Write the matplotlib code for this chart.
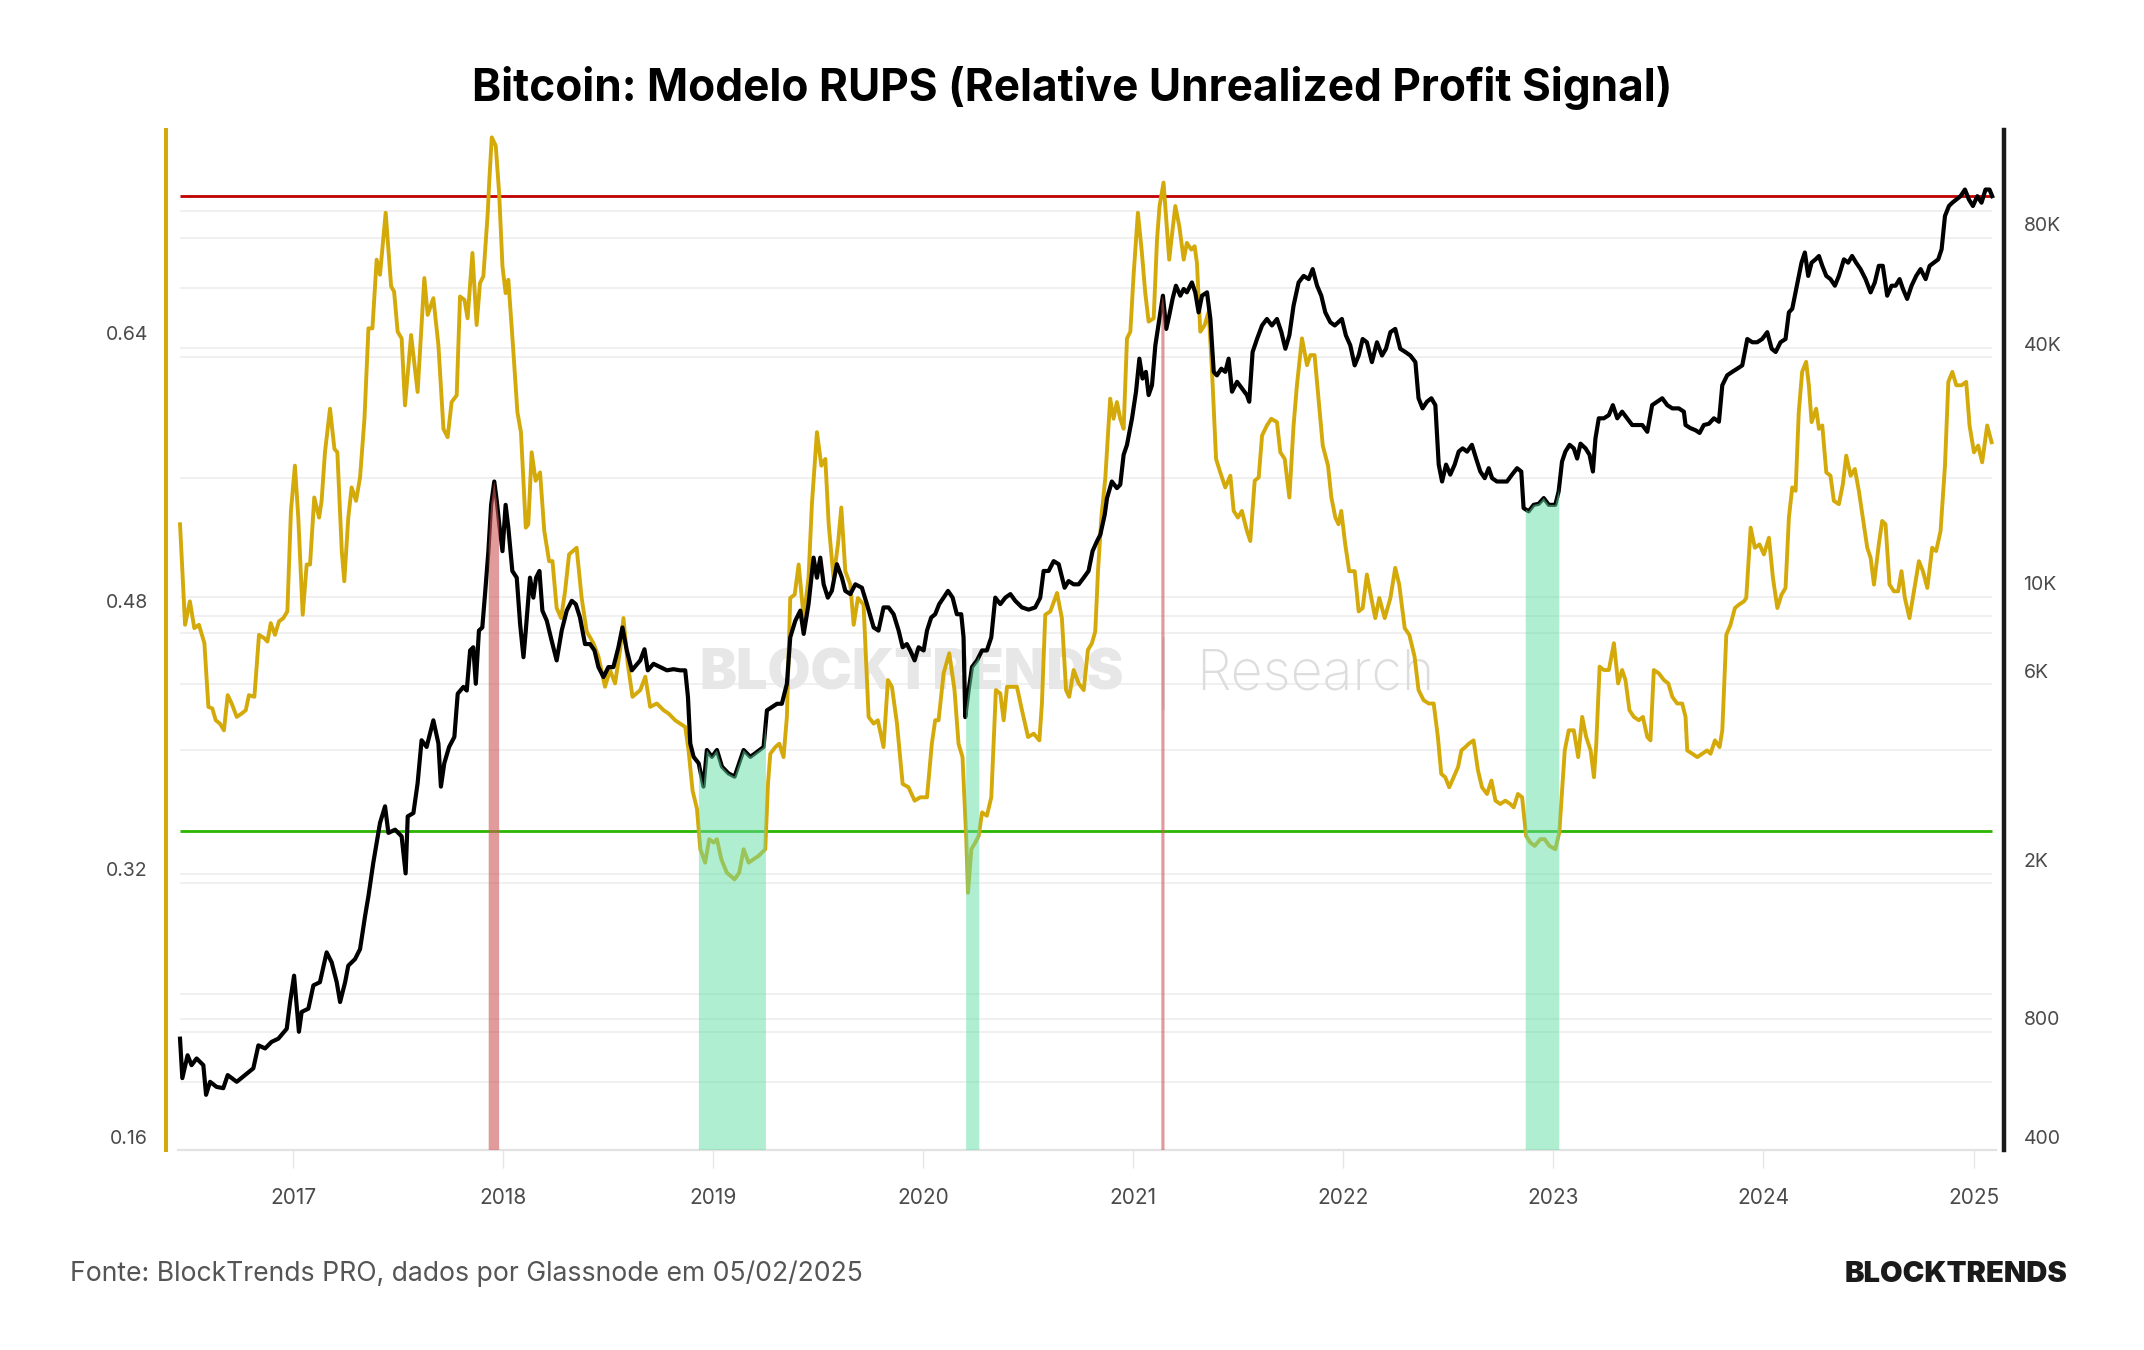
import numpy as np
import matplotlib
matplotlib.use("Agg")
import matplotlib.pyplot as plt
from matplotlib.lines import Line2D
from matplotlib.ticker import NullLocator

plt.rcParams['font.family'] = ['Inter', 'DejaVu Sans']

# RUPS (left axis), dates as decimal years
rups_t = [
    2016.462, 2016.486, 2016.509, 2016.530, 2016.552, 2016.578, 2016.597, 2016.616, 2016.632, 2016.652,
    2016.671, 2016.689, 2016.708, 2016.732, 2016.755, 2016.775, 2016.790, 2016.816, 2016.838, 2016.863,
    2016.878, 2016.894, 2016.914, 2016.933, 2016.954, 2016.973, 2016.990, 2017.009, 2017.025, 2017.046,
    2017.065, 2017.081, 2017.101, 2017.124, 2017.136, 2017.152, 2017.176, 2017.197, 2017.211, 2017.232,
    2017.244, 2017.263, 2017.279, 2017.300, 2017.319, 2017.340, 2017.359, 2017.378, 2017.398, 2017.414,
    2017.441, 2017.467, 2017.481, 2017.498, 2017.517,
    2017.533, 2017.562, 2017.593, 2017.625, 2017.641, 2017.668, 2017.692, 2017.716, 2017.736, 2017.755,
    2017.779, 2017.795, 2017.816, 2017.831, 2017.854, 2017.874, 2017.890, 2017.906, 2017.927, 2017.933,
    2017.946, 2017.965, 2017.981, 2017.997, 2018.012, 2018.025, 2018.049, 2018.068, 2018.085, 2018.108,
    2018.120, 2018.136, 2018.155, 2018.176, 2018.196, 2018.219, 2018.235, 2018.255, 2018.276, 2018.295,
    2018.314, 2018.350, 2018.374, 2018.398, 2018.430, 2018.454, 2018.485, 2018.509, 2018.533, 2018.557,
    2018.573, 2018.593, 2018.616,
    2018.653, 2018.677, 2018.700, 2018.732, 2018.764, 2018.788, 2018.819, 2018.867, 2018.883, 2018.902,
    2018.923, 2018.939, 2018.962, 2018.981, 2019.002, 2019.018, 2019.039, 2019.065, 2019.102, 2019.124,
    2019.145, 2019.169, 2019.192, 2019.216, 2019.248, 2019.261, 2019.272, 2019.296, 2019.315, 2019.335,
    2019.351, 2019.367, 2019.388, 2019.407, 2019.431, 2019.454, 2019.470, 2019.494, 2019.515, 2019.534,
    2019.550, 2019.573, 2019.594, 2019.610, 2019.629, 2019.653, 2019.669, 2019.689, 2019.716,
    2019.740, 2019.764, 2019.784, 2019.811, 2019.832, 2019.851, 2019.875, 2019.902, 2019.930, 2019.959,
    2019.986, 2020.018, 2020.041, 2020.057, 2020.073, 2020.097, 2020.124, 2020.149, 2020.168, 2020.187,
    2020.200, 2020.205, 2020.213, 2020.229, 2020.248, 2020.264, 2020.280, 2020.303, 2020.324, 2020.346,
    2020.367, 2020.383, 2020.399, 2020.422, 2020.446, 2020.470, 2020.499, 2020.526, 2020.553, 2020.565,
    2020.581, 2020.605, 2020.637, 2020.660, 2020.680, 2020.695, 2020.716, 2020.740, 2020.764, 2020.784,
    2020.803,
    2020.819, 2020.832, 2020.848, 2020.867, 2020.890, 2020.906, 2020.922, 2020.938, 2020.954, 2020.970,
    2020.986, 2021.002, 2021.022, 2021.041, 2021.057, 2021.073, 2021.097, 2021.113, 2021.125, 2021.144,
    2021.157, 2021.171, 2021.187, 2021.200, 2021.219, 2021.240, 2021.255, 2021.276, 2021.292, 2021.303,
    2021.319, 2021.340, 2021.359, 2021.375, 2021.394, 2021.414, 2021.438, 2021.462, 2021.478, 2021.498,
    2021.517, 2021.541, 2021.557, 2021.578, 2021.597, 2021.613, 2021.636, 2021.657, 2021.684, 2021.700,
    2021.721, 2021.743, 2021.763, 2021.779, 2021.803, 2021.827, 2021.843, 2021.863, 2021.879, 2021.902,
    2021.927, 2021.943, 2021.962, 2021.977, 2021.990, 2022.009, 2022.028, 2022.054, 2022.073, 2022.092,
    2022.112, 2022.133, 2022.152, 2022.171, 2022.197, 2022.224, 2022.247, 2022.266, 2022.292, 2022.314,
    2022.339, 2022.358, 2022.382, 2022.406, 2022.430, 2022.450, 2022.466, 2022.485, 2022.504, 2022.525,
    2022.546, 2022.562, 2022.581, 2022.597, 2022.620, 2022.641, 2022.660, 2022.684, 2022.705, 2022.724,
    2022.747, 2022.771, 2022.795, 2022.811, 2022.831, 2022.851, 2022.870, 2022.890, 2022.911, 2022.938,
    2022.958, 2022.981, 2023.009, 2023.028,
    2023.039, 2023.054, 2023.073, 2023.097, 2023.118, 2023.137, 2023.156, 2023.177, 2023.193, 2023.204,
    2023.220, 2023.240, 2023.264, 2023.288, 2023.308, 2023.327, 2023.343, 2023.362, 2023.383, 2023.407,
    2023.426, 2023.447, 2023.462, 2023.478, 2023.502, 2023.526, 2023.547, 2023.566, 2023.589, 2023.613,
    2023.629, 2023.637, 2023.661, 2023.685, 2023.708, 2023.732, 2023.748, 2023.769, 2023.791, 2023.804,
    2023.823, 2023.843, 2023.864, 2023.883, 2023.907, 2023.918, 2023.939, 2023.959, 2023.981, 2024.002,
    2024.026, 2024.045, 2024.066, 2024.086, 2024.105, 2024.121, 2024.137, 2024.153,
    2024.168, 2024.184, 2024.203, 2024.216, 2024.229, 2024.251, 2024.264, 2024.280, 2024.299, 2024.319,
    2024.335, 2024.359, 2024.378, 2024.394, 2024.415, 2024.435, 2024.454, 2024.473, 2024.494, 2024.510,
    2024.526, 2024.549, 2024.565, 2024.581, 2024.600, 2024.621, 2024.641, 2024.657, 2024.673, 2024.695,
    2024.716, 2024.740, 2024.759, 2024.780, 2024.803, 2024.822, 2024.843, 2024.864, 2024.880, 2024.899,
    2024.918, 2024.943, 2024.965, 2024.981, 2025.002, 2025.022, 2025.041, 2025.065, 2025.086,
]
rups_v = [
    0.526, 0.466, 0.480, 0.464, 0.466, 0.455, 0.417, 0.416, 0.409, 0.407,
    0.403, 0.424, 0.419, 0.411, 0.413, 0.415, 0.424, 0.423, 0.460, 0.458,
    0.456, 0.467, 0.460, 0.468, 0.470, 0.474, 0.534, 0.561, 0.530, 0.472,
    0.502, 0.502, 0.542, 0.530, 0.540, 0.569, 0.595, 0.571, 0.569, 0.510,
    0.492, 0.530, 0.548, 0.540, 0.554, 0.589, 0.643, 0.643, 0.684, 0.675,
    0.712, 0.668, 0.665, 0.641, 0.637,
    0.597, 0.639, 0.605, 0.673, 0.651, 0.661, 0.633, 0.583, 0.578, 0.599,
    0.603, 0.662, 0.660, 0.649, 0.688, 0.645, 0.670, 0.674, 0.712, 0.728,
    0.757, 0.752, 0.724, 0.680, 0.664, 0.672, 0.629, 0.593, 0.581, 0.524,
    0.526, 0.569, 0.552, 0.557, 0.522, 0.504, 0.504, 0.476, 0.470, 0.486,
    0.508, 0.512, 0.482, 0.462, 0.455, 0.447, 0.429, 0.439, 0.431, 0.451,
    0.470, 0.443, 0.423,
    0.427, 0.435, 0.417, 0.419, 0.415, 0.413, 0.409, 0.405, 0.391, 0.367,
    0.356, 0.332, 0.324, 0.338, 0.336, 0.338, 0.326, 0.318, 0.314, 0.318,
    0.332, 0.324, 0.326, 0.328, 0.332, 0.371, 0.389, 0.393, 0.395, 0.387,
    0.411, 0.482, 0.484, 0.502, 0.470, 0.494, 0.538, 0.581, 0.561, 0.565,
    0.526, 0.494, 0.514, 0.536, 0.498, 0.490, 0.466, 0.482, 0.478,
    0.411, 0.407, 0.409, 0.393, 0.433, 0.429, 0.407, 0.371, 0.369, 0.361,
    0.363, 0.363, 0.395, 0.409, 0.409, 0.437, 0.449, 0.427, 0.395, 0.387,
    0.352, 0.338, 0.306, 0.332, 0.336, 0.340, 0.354, 0.352, 0.363, 0.427,
    0.425, 0.409, 0.429, 0.429, 0.429, 0.415, 0.399, 0.401, 0.397, 0.419,
    0.472, 0.474, 0.485, 0.470, 0.427, 0.423, 0.439, 0.431, 0.427, 0.451,
    0.455,
    0.462, 0.498, 0.530, 0.554, 0.601, 0.589, 0.599, 0.589, 0.583, 0.637,
    0.641, 0.676, 0.712, 0.688, 0.664, 0.647, 0.649, 0.696, 0.716, 0.730,
    0.708, 0.684, 0.702, 0.716, 0.704, 0.684, 0.694, 0.690, 0.692, 0.682,
    0.641, 0.645, 0.653, 0.617, 0.565, 0.557, 0.548, 0.555, 0.534, 0.530,
    0.534, 0.522, 0.516, 0.552, 0.554, 0.579, 0.585, 0.589, 0.587, 0.569,
    0.565, 0.542, 0.585, 0.609, 0.637, 0.621, 0.627, 0.627, 0.605, 0.573,
    0.561, 0.542, 0.530, 0.526, 0.534, 0.514, 0.498, 0.498, 0.474, 0.476,
    0.496, 0.482, 0.470, 0.482, 0.470, 0.482, 0.500, 0.490, 0.464, 0.460,
    0.447, 0.427, 0.421, 0.419, 0.419, 0.399, 0.377, 0.375, 0.369, 0.375,
    0.381, 0.391, 0.393, 0.395, 0.397, 0.379, 0.369, 0.365, 0.373, 0.361,
    0.359, 0.361, 0.359, 0.357, 0.365, 0.363, 0.340, 0.336, 0.334, 0.338,
    0.338, 0.334, 0.332, 0.342,
    0.363, 0.391, 0.403, 0.403, 0.387, 0.411, 0.399, 0.391, 0.375, 0.395,
    0.441, 0.439, 0.439, 0.455, 0.431, 0.439, 0.433, 0.415, 0.411, 0.409,
    0.411, 0.399, 0.397, 0.439, 0.437, 0.433, 0.431, 0.423, 0.419, 0.419,
    0.411, 0.391, 0.389, 0.387, 0.389, 0.391, 0.389, 0.397, 0.393, 0.403,
    0.460, 0.466, 0.476, 0.478, 0.480, 0.482, 0.524, 0.512, 0.514, 0.508,
    0.518, 0.494, 0.476, 0.484, 0.488, 0.530, 0.548, 0.546,
    0.593, 0.617, 0.623, 0.609, 0.587, 0.595, 0.583, 0.585, 0.557, 0.555,
    0.540, 0.538, 0.550, 0.567, 0.555, 0.559, 0.546, 0.530, 0.512, 0.506,
    0.490, 0.514, 0.528, 0.526, 0.490, 0.486, 0.486, 0.498, 0.482, 0.470,
    0.486, 0.504, 0.498, 0.488, 0.512, 0.510, 0.522, 0.561, 0.611, 0.617,
    0.609, 0.609, 0.611, 0.585, 0.569, 0.573, 0.563, 0.585, 0.575,
]

# BTC price in USD (right axis, log)
price_t = [
    2016.462, 2016.473, 2016.498, 2016.517, 2016.541, 2016.573, 2016.586, 2016.605, 2016.636, 2016.668,
    2016.689, 2016.732, 2016.771, 2016.811, 2016.835, 2016.867, 2016.898, 2016.930, 2016.970, 2016.986,
    2017.005, 2017.028, 2017.041, 2017.073, 2017.097, 2017.128, 2017.160, 2017.184, 2017.208, 2017.224,
    2017.248, 2017.263, 2017.295, 2017.319, 2017.343, 2017.359, 2017.382, 2017.398, 2017.414, 2017.438,
    2017.454, 2017.486, 2017.517, 2017.536,
    2017.546, 2017.573, 2017.593, 2017.612, 2017.636, 2017.668, 2017.692, 2017.704, 2017.720, 2017.743,
    2017.768, 2017.784, 2017.811, 2017.827, 2017.843, 2017.858, 2017.870, 2017.885, 2017.901, 2017.914,
    2017.930, 2017.943, 2017.958, 2017.970, 2017.982, 2017.997, 2018.012, 2018.025, 2018.044, 2018.065,
    2018.081, 2018.097, 2018.108, 2018.128, 2018.144, 2018.157, 2018.173, 2018.187, 2018.208, 2018.231,
    2018.255, 2018.279, 2018.303, 2018.327, 2018.346, 2018.366, 2018.390, 2018.414, 2018.435, 2018.454,
    2018.478, 2018.501, 2018.525, 2018.549, 2018.568, 2018.589, 2018.613,
    2018.653, 2018.673, 2018.689, 2018.716, 2018.748, 2018.780, 2018.811, 2018.843, 2018.867, 2018.880,
    2018.891, 2018.907, 2018.931, 2018.954, 2018.970, 2018.994, 2019.018, 2019.042, 2019.073, 2019.102,
    2019.129, 2019.145, 2019.177, 2019.200, 2019.240, 2019.256, 2019.280, 2019.304, 2019.327, 2019.351,
    2019.367, 2019.391, 2019.415, 2019.431, 2019.454, 2019.478, 2019.494, 2019.510, 2019.526, 2019.546,
    2019.565, 2019.589, 2019.613, 2019.629, 2019.653, 2019.677, 2019.708, 2019.732,
    2019.764, 2019.787, 2019.811, 2019.835, 2019.859, 2019.883, 2019.902, 2019.922, 2019.938, 2019.959,
    2019.978, 2020.002, 2020.018, 2020.038, 2020.057, 2020.076, 2020.097, 2020.118, 2020.140, 2020.160,
    2020.181, 2020.192, 2020.200, 2020.216, 2020.232, 2020.256, 2020.280, 2020.303, 2020.324, 2020.343,
    2020.367, 2020.391, 2020.415, 2020.438, 2020.470, 2020.502, 2020.533, 2020.557, 2020.573, 2020.597,
    2020.621, 2020.645, 2020.673, 2020.692, 2020.716, 2020.740, 2020.764, 2020.787, 2020.806, 2020.827,
    2020.843, 2020.864,
    2020.875, 2020.898, 2020.922, 2020.938, 2020.954, 2020.970, 2020.994, 2021.013, 2021.029, 2021.044,
    2021.060, 2021.073, 2021.089, 2021.105, 2021.124, 2021.141, 2021.157, 2021.171, 2021.187, 2021.203,
    2021.224, 2021.240, 2021.255, 2021.279, 2021.295, 2021.311, 2021.327, 2021.351, 2021.367, 2021.383,
    2021.398, 2021.419, 2021.438, 2021.454, 2021.470, 2021.494, 2021.517, 2021.541, 2021.552, 2021.568,
    2021.589, 2021.613, 2021.636, 2021.660, 2021.684, 2021.705, 2021.724, 2021.743, 2021.763, 2021.787,
    2021.811, 2021.835, 2021.854, 2021.875, 2021.895, 2021.914, 2021.938, 2021.959,
    2021.993, 2022.012, 2022.033, 2022.054, 2022.073, 2022.092, 2022.112, 2022.136, 2022.160, 2022.184,
    2022.203, 2022.224, 2022.247, 2022.271, 2022.295, 2022.319, 2022.343, 2022.358, 2022.377, 2022.398,
    2022.419, 2022.438, 2022.454, 2022.470, 2022.489, 2022.509, 2022.530, 2022.549, 2022.568, 2022.589,
    2022.612, 2022.632, 2022.652, 2022.673, 2022.692, 2022.708, 2022.731, 2022.755, 2022.779, 2022.803,
    2022.827, 2022.847, 2022.858, 2022.882, 2022.906, 2022.930, 2022.954, 2022.978, 2023.009, 2023.025,
    2023.041, 2023.057,
    2023.077, 2023.097, 2023.113, 2023.129, 2023.153, 2023.172, 2023.188, 2023.200, 2023.216, 2023.240,
    2023.264, 2023.283, 2023.304, 2023.327, 2023.351, 2023.375, 2023.399, 2023.423, 2023.447, 2023.470,
    2023.494, 2023.518, 2023.542, 2023.566, 2023.597, 2023.621, 2023.629, 2023.653, 2023.677, 2023.696,
    2023.716, 2023.740, 2023.764, 2023.788, 2023.804, 2023.827, 2023.851, 2023.875, 2023.899, 2023.923,
    2023.947, 2023.970, 2023.994, 2024.018, 2024.039, 2024.058, 2024.081, 2024.105, 2024.121, 2024.137,
    2024.165, 2024.181, 2024.197, 2024.213, 2024.229, 2024.248, 2024.264, 2024.280, 2024.299, 2024.319,
    2024.340, 2024.359, 2024.383, 2024.403, 2024.422, 2024.441, 2024.462, 2024.486, 2024.510, 2024.530,
    2024.549, 2024.568, 2024.589, 2024.610, 2024.629, 2024.648, 2024.664, 2024.684, 2024.705, 2024.727,
    2024.748, 2024.772, 2024.791, 2024.811, 2024.832, 2024.848, 2024.864, 2024.883, 2024.899, 2024.918,
    2024.938, 2024.959, 2024.978, 2024.997, 2025.018, 2025.038, 2025.057, 2025.076, 2025.089,
]
price_v = [
    709, 564, 644, 608, 632, 608, 512, 552, 536, 532,
    574, 552, 574, 597, 682, 670, 696, 709, 751, 877,
    1022, 738, 828, 844, 966, 984, 1170, 1104, 984, 877,
    984, 1083, 1125, 1192, 1445, 1622, 1967, 2207, 2478, 2730,
    2340, 2384, 2294, 1850,
    2575, 2626, 3119, 4006, 3853, 4497, 3933, 3061, 3505, 3853,
    4084, 5248, 5458, 5346, 6745, 6871, 5560, 7568, 7709, 9354,
    12000, 15703, 17977, 16032, 14000, 12000, 15703, 13740, 10697, 10288,
    7862, 6487, 7568, 10288, 9164, 10288, 10697, 8499, 8014, 7141,
    6367, 7568, 8499, 8997, 8824, 8166, 7000, 7000, 6745, 6124,
    5780, 6124, 6124, 6871, 7709, 6745, 6010,
    6367, 6792, 6010, 6242, 6124, 6010, 6050, 6010, 6010, 5150,
    3933, 3638, 3505, 3061, 3785, 3638, 3785, 3437, 3305, 3243,
    3570, 3785, 3638, 3713, 3853, 4764, 4856, 4950, 4950, 5560,
    7279, 8014, 8499, 7427, 8824, 11555, 10288, 11555, 9900, 9164,
    9530, 11126, 10288, 9530, 9354, 9900, 9706, 8824,
    7709, 7568, 8659, 8659, 8323, 7568, 6871, 7000, 6745, 6367,
    6871, 6745, 7568, 8166, 8323, 8824, 9164, 9530, 9164, 8323,
    8323, 7279, 4581, 5346, 6124, 6367, 6745, 6745, 7279, 9164,
    8824, 9164, 9354, 8997, 8659, 8547, 8659, 9164, 10697, 10697,
    11326, 11126, 9706, 10089, 9900, 9900, 10288, 10697, 12000, 12705,
    13200, 14825,
    16330, 17977, 17300, 17650, 20990, 22240, 25940, 30270, 36660, 32670,
    33960, 29680, 31430, 39620, 46160, 52840, 43580, 47080, 51870, 55990,
    52840, 54950, 53870, 57060, 53870, 47970, 52840, 53870, 46160, 33960,
    33280, 34590, 33960, 36660, 30270, 32060, 30860, 29680, 28560, 38110,
    41100, 44460, 46160, 44460, 46160, 42760, 38840, 41980, 49890, 57060,
    59270, 58180, 61650, 55990, 52840, 47970, 45290, 44460,
    46160, 41980, 39620, 35270, 37340, 41100, 40330, 35940, 40330, 37340,
    38840, 42760, 43580, 38840, 38110, 37340, 35940, 29140, 27480, 28560,
    29140, 28000, 19830, 17977, 19830, 18710, 19830, 21380, 21790, 21380,
    22240, 20540, 19050, 18330, 19420, 18330, 17977, 17977, 17977, 18710,
    19420, 19050, 15410, 15120, 15700, 15800, 16330, 15700, 15700, 16980,
    20180, 21380,
    22240, 21790, 20540, 22390, 21790, 20990, 19050, 23060, 25940, 25940,
    26430, 28000, 25940, 26960, 25940, 24950, 24950, 24950, 23990, 28000,
    28560, 29140, 28000, 27480, 27480, 26960, 24950, 24490, 24200, 23830,
    24950, 25130, 25940, 25430, 31430, 33280, 33960, 34590, 35270, 41100,
    40330, 40330, 41100, 42760, 38840, 38110, 40330, 41100, 47970, 48980,
    58180, 64000, 67900, 59270, 64000, 65250, 66530, 62840, 59270, 58180,
    55990, 59270, 65250, 64000, 66530, 64000, 61650, 58180, 53870, 57060,
    62840, 62840, 52840, 55990, 55990, 58180, 54950, 51870, 55990, 59270,
    61650, 58180, 62840, 64000, 65250, 69180, 83900, 88930, 90650, 92340,
    94130, 97830, 92340, 88930, 94130, 90650, 97830, 97830, 94130,
]

rups_high = 0.722
rups_low = 0.343

left_ticks = [0.16, 0.32, 0.48, 0.64]
right_ticks = [400, 800, 2000, 6000, 10000, 40000, 80000]
right_labels = ['400', '800', '2K', '6K', '10K', '40K', '80K']
years = list(range(2017, 2026))
grid_levels = [0.713, 0.697, 0.667, 0.6315, 0.626, 0.5535, 0.4826, 0.4711, 0.4612,
               0.4307, 0.391, 0.3175, 0.3119, 0.2454, 0.2307, 0.2228, 0.1931]

YELLOW = '#d4a90a'
TICK_COLOR = '#4a4a4a'

fig = plt.figure(figsize=(21.44, 13.5), dpi=100)
ax = fig.add_axes([0.0774, 0.1481, 0.8573, 0.7556])
ax2 = ax.twinx()

ax.set_xlim(2016.395, 2025.145)
ax.set_ylim(0.1524, 0.7614)
ax2.set_yscale('log')
ax2.set_ylim(371.5, 138200)

t0, t1 = min(rups_t), max(rups_t)

# faint grid + signal levels
ax.hlines(grid_levels, t0, t1, color='#ececec', lw=1.1, zorder=0.5)
ax.hlines([rups_high], t0, t1, color='#c00000', lw=2.0, zorder=2.5)
ax.hlines([rups_low], t0, t1, color='#2cb400', lw=2.0, zorder=2.5)

ax.plot(rups_t, rups_v, color=YELLOW, lw=2.8, zorder=3, solid_joinstyle='round')
ax2.plot(price_t, price_v, color='black', lw=3.0, zorder=2, solid_joinstyle='round')

# signal bands under the price curve
tf = np.linspace(t0, t1, 8000)
rf = np.interp(tf, rups_t, rups_v)
pf = 10 ** np.interp(tf, price_t, np.log10(price_v))
ybot = ax2.get_ylim()[0]
ax2.fill_between(tf, ybot, pf, where=rf > rups_high, color='#d05858', alpha=0.6, lw=0, zorder=3)
ax2.fill_between(tf, ybot, pf, where=rf < rups_low, color='#62dea6', alpha=0.5, lw=0, zorder=3)

# spines
for s in ['top', 'right']:
    ax.spines[s].set_visible(False)
for s in ['top', 'left', 'bottom']:
    ax2.spines[s].set_visible(False)
ax.spines['left'].set_color(YELLOW)
ax.spines['left'].set_linewidth(2.9)
ax2.spines['right'].set_color('#1a1a1a')
ax2.spines['right'].set_linewidth(3.2)
ax.spines['bottom'].set_color('#e2e2e2')
ax.spines['bottom'].set_linewidth(1.6)
ax.spines['bottom'].set_bounds(t0 - 0.01, t1 + 0.02)

# ticks
ax.set_yticks(left_ticks, [f'{v:.2f}' for v in left_ticks])
ax.tick_params(axis='y', length=0, pad=13, labelsize=14, labelcolor=TICK_COLOR)
ax2.set_yticks(right_ticks, right_labels)
ax2.yaxis.set_minor_locator(NullLocator())
ax2.tick_params(axis='y', which='both', length=0, pad=14, labelsize=14, labelcolor=TICK_COLOR)
ax.set_xticks(years, [str(y) for y in years])
ax.tick_params(axis='x', length=13, width=1, color='#e6e6e6', pad=14, labelsize=15, labelcolor=TICK_COLOR)

# watermark
ax.text(0.5243, 0.5007, 'BLOCKTRENDS', transform=fig.transFigure, ha='right', va='center',
        fontsize=40, fontweight='black', color='#e7e7e7', zorder=0.6)
ax.add_line(Line2D([0.5424, 0.5424], [1 - 638 / 1350, 1 - 708 / 1350], transform=fig.transFigure,
                   color='#e7e7e7', lw=2, zorder=0.6))
ax.text(0.5578, 0.5007, 'Research', transform=fig.transFigure, ha='left', va='center',
        fontsize=40, fontweight='light', color='#dddddd', zorder=0.6)

fig.text(0.5, 1 - 88 / 1350, 'Bitcoin: Modelo RUPS (Relative Unrealized Profit Signal)',
         ha='center', va='center', fontsize=31.8, fontweight='bold', color='black')
fig.text(70 / 2144, 1 - 1274 / 1350, 'Fonte: BlockTrends PRO, dados por Glassnode em 05/02/2025',
         ha='left', va='center', fontsize=19.1, color='#555555')
fig.text(2068 / 2144, 1 - 1274 / 1350, 'BLOCKTRENDS', ha='right', va='center',
         fontsize=21, fontweight='black', color='#1a1a1a')

fig.savefig('out.png', dpi=100, facecolor='white')
